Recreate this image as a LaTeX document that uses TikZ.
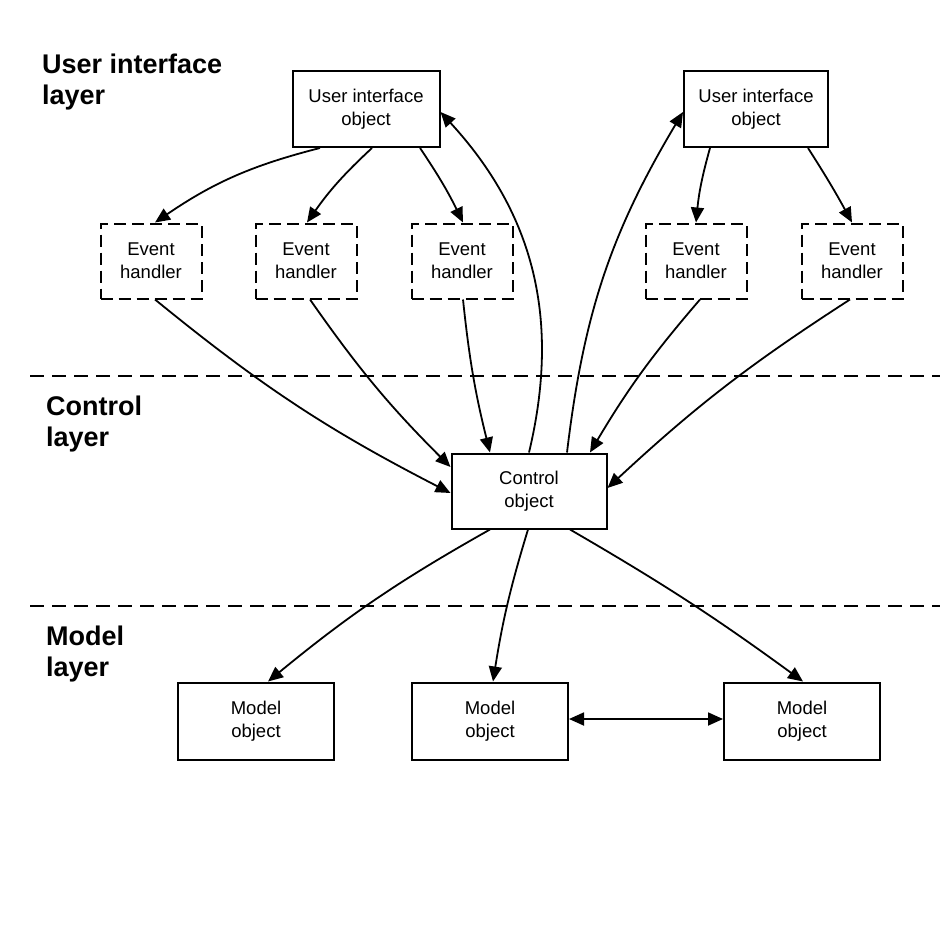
\documentclass[tikz,border=0pt]{standalone}
\usepackage{fontspec}
\setmainfont{Liberation Sans}
\usetikzlibrary{arrows.meta}
\begin{document}
\begin{tikzpicture}[x=1pt,y=-1pt,
  box/.style={draw,line width=2pt,minimum width=#1,minimum height=76pt,align=center,inner sep=0pt,
     font=\fontsize{18.5}{23}\selectfont},
  box/.default=150pt,
  ehbox/.style={draw,dash pattern=on 12pt off 6pt,line width=2pt,minimum width=101pt,minimum height=75pt,
     align=center,inner sep=0pt,font=\fontsize{18.5}{23}\selectfont},
  layerlbl/.style={anchor=north west,align=left,inner sep=0pt,font=\fontsize{27}{31}\selectfont\bfseries},
  conn/.style={line width=1.8pt,-{Triangle[length=15pt,width=13pt]}},
  sep/.style={line width=2pt,dash pattern=on 14pt off 8pt}]
\useasboundingbox (0,0) rectangle (939,939);
% layer labels
\node[layerlbl] (lui) at (42,54) {User interface\\layer};
\node[layerlbl] (lctl) at (46,396) {Control\\layer};
\node[layerlbl] (lmod) at (46,626) {Model\\layer};
% separators
\coordinate (s1a) at (30,376); \coordinate (s1b) at (945,376);
\coordinate (s2a) at (30,606); \coordinate (s2b) at (945,606);
\draw[sep] (s1a) -- (s1b);
\draw[sep] (s2a) -- (s2b);
% nodes
\node[box=147pt] (ui1) at (366,109) {User interface\\object};
\node[box=144pt] (ui2) at (756,109) {User interface\\object};
\node[ehbox] (eh1) at (151,261) {Event\\handler};
\node[ehbox] (eh2) at (306,261) {Event\\handler};
\node[ehbox] (eh3) at (462,261) {Event\\handler};
\node[ehbox] (eh4) at (696,261) {Event\\handler};
\node[ehbox] (eh5) at (852,261) {Event\\handler};
\node[box=155pt,minimum height=75pt] (ctl) at (529,491) {Control\\object};
\node[box=156pt,minimum height=77pt] (m1) at (256,721) {Model\\object};
\node[box=156pt,minimum height=77pt] (m2) at (490,721) {Model\\object};
\node[box=156pt,minimum height=77pt] (m3) at (802,721) {Model\\object};
% UI -> event handlers
\draw[conn] ([xshift=-46pt]ui1.south) to[bend right=10] ([xshift=4pt]eh1.north);
\draw[conn] ([xshift=6pt]ui1.south) to[bend right=6] ([xshift=1pt]eh2.north);
\draw[conn] ([xshift=54pt]ui1.south) to[bend left=4] ([xshift=1pt]eh3.north);
\draw[conn] ([xshift=-46pt]ui2.south) to[bend right=5] (eh4.north);
\draw[conn] ([xshift=52pt]ui2.south) to[bend left=2] (eh5.north);
% control -> UI objects
\draw[conn] (ctl.north) to[bend right=28] ([yshift=-3pt]ui1.east);
\draw[conn] ([xshift=38pt]ctl.north) to[bend left=12] ([yshift=-3pt]ui2.west);
% event handlers -> control
\draw[conn] ([xshift=4pt]eh1.south) to[bend right=6] ([yshift=-2pt]ctl.west);
\draw[conn] ([xshift=4pt]eh2.south) to[bend right=5] ([yshift=24pt]ctl.west);
\draw[conn] ([xshift=1pt]eh3.south) to[bend right=4] ([xshift=-39pt]ctl.north);
\draw[conn] ([xshift=4pt]eh4.south) to[bend right=5] ([xshift=61pt]ctl.north);
\draw[conn] ([xshift=-2pt]eh5.south) to[bend right=5] ([yshift=3pt]ctl.east);
% control -> models
\draw[conn] ([xshift=-39pt]ctl.south) to[bend right=5] ([xshift=12pt]m1.north);
\draw[conn] ([xshift=-1pt]ctl.south) to[bend right=4] ([xshift=3pt]m2.north);
\draw[conn] ([xshift=41pt]ctl.south) to[bend left=3] ([xshift=1pt]m3.north);
% model <-> model
\draw[line width=1.8pt,{Triangle[length=15pt,width=13pt]}-{Triangle[length=15pt,width=13pt]}] ([yshift=2pt]m2.east) -- ([yshift=2pt]m3.west);
\end{tikzpicture}
\end{document}
